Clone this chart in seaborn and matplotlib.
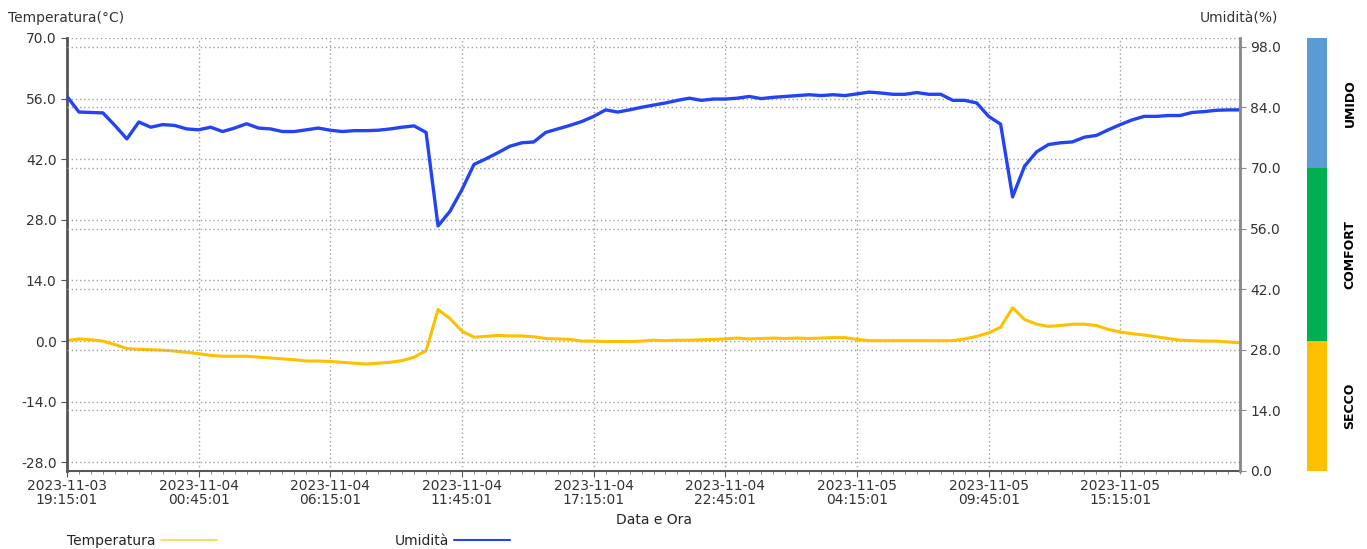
import pandas as pd
import numpy as np
import matplotlib.pyplot as plt
import seaborn as sns
from matplotlib.lines import Line2D

# dati (una misura ogni 30 minuti)
inizio = "2023-11-03 19:15:01"
temperatura = [0.1, 0.5, 0.3, 0.0, -0.8, -1.7, -1.9, -2.0, -2.1, -2.3,
               -2.6, -2.9, -3.3, -3.5, -3.5, -3.5, -3.7, -3.9, -4.1, -4.3,
               -4.6, -4.6, -4.7, -4.9, -5.1, -5.3, -5.1, -4.9, -4.5, -3.7,
               -2.2, 7.3, 5.2, 2.3, 0.9, 1.1, 1.3, 1.2, 1.2, 1.0,
               0.6, 0.5, 0.4, 0.0, 0.0, -0.1, -0.1, -0.1, 0.0, 0.2,
               0.1, 0.2, 0.2, 0.3, 0.4, 0.5, 0.7, 0.5, 0.6, 0.7,
               0.6, 0.7, 0.6, 0.7, 0.8, 0.8, 0.4, 0.1, 0.1, 0.1,
               0.1, 0.1, 0.1, 0.1, 0.1, 0.5, 1.1, 1.9, 3.2, 7.7,
               5.0, 3.9, 3.4, 3.6, 3.9, 3.9, 3.6, 2.7, 2.1, 1.7,
               1.4, 1.0, 0.6, 0.2, 0.1, 0.0, 0.0, -0.2, -0.4]
umidita = [86.5, 82.9, 82.8, 82.7, 79.8, 76.7, 80.6, 79.4, 80.0, 79.8,
           79.0, 78.8, 79.4, 78.4, 79.2, 80.2, 79.2, 79.0, 78.4, 78.4,
           78.8, 79.2, 78.7, 78.4, 78.6, 78.6, 78.7, 79.0, 79.4, 79.7,
           78.2, 56.6, 60.0, 65.0, 70.8, 72.1, 73.5, 75.0, 75.8, 76.0,
           78.2, 79.0, 79.8, 80.7, 81.9, 83.4, 82.9, 83.4, 84.0, 84.5,
           85.0, 85.6, 86.1, 85.6, 85.9, 85.9, 86.1, 86.5, 86.0, 86.3,
           86.5, 86.7, 86.9, 86.7, 86.9, 86.7, 87.1, 87.5, 87.3, 87.0,
           87.0, 87.4, 87.0, 87.0, 85.6, 85.6, 85.0, 81.9, 80.1, 63.3,
           70.4, 73.7, 75.4, 75.8, 76.0, 77.1, 77.5, 78.8, 80.0, 81.1,
           81.9, 81.9, 82.1, 82.1, 82.8, 83.0, 83.3, 83.4, 83.4]

fasce = ["SECCO", "COMFORT", "UMIDO"]
fasce_lim = [0, 30, 70, 100]
fasce_col = ["#FFC000", "#00B050", "#5B9BD5"]

col_temp = "#FFC000"
col_umid = "#2343F5"

tempi = pd.date_range(inizio, periods=len(umidita), freq="30min")
df = pd.DataFrame({"n": np.arange(len(tempi)),
                   "Temperatura": temperatura,
                   "Umidità": umidita})

sns.set_style("white")
plt.rcParams['font.family'] = ['DejaVu Sans']
plt.rcParams['font.size'] = 10

fig = plt.figure(figsize=(13.67, 5.49), dpi=100)
ax = fig.add_axes([67/1367, 1-471/549, (1240-67)/1367, (471-38)/549])
ax2 = ax.twinx()

sns.lineplot(data=df, x="n", y="Temperatura", ax=ax, color=col_temp, lw=2.2)
sns.lineplot(data=df, x="n", y="Umidità", ax=ax2, color=col_umid, lw=2.4)

ax.set_xlim(0, len(df) - 1)
ax.set_ylim(-30, 70)
ax2.set_ylim(0, 100)
ax.set_yticks(np.arange(-28, 71, 14))
ax2.set_yticks(np.arange(0, 99, 14))
ax.set_yticklabels([f"{v:.1f}" for v in np.arange(-28, 71, 14)])
ax2.set_yticklabels([f"{v:.1f}" for v in np.arange(0, 99, 14)])

pos = np.arange(0, len(df), 11)
ax.set_xticks(pos)
ax.set_xticklabels([tempi[i].strftime("%Y-%m-%d\n%H:%M:%S") for i in pos],
                   linespacing=1.05, fontsize=10.5)
ax.set_xticks(np.arange(len(df)), minor=True)

ax.set_ylabel("")
ax2.set_ylabel("")
ax.set_xlabel("Data e Ora", fontsize=10, labelpad=4)

ax.grid(True, which="major", ls=(0, (1, 2)), color="#a0a0a0", lw=1)
ax2.grid(True, axis="y", ls=(0, (1, 2)), color="#a0a0a0", lw=1)
ax2.grid(False, axis="x")

ax.tick_params(axis="both", which="major", length=4, color="#555555",
               labelcolor="#333333", labelsize=10, left=True, bottom=True)
ax.tick_params(axis="x", which="major", pad=1.5)
ax.tick_params(axis="x", which="minor", length=2, color="#777777", bottom=True)
ax2.tick_params(axis="y", length=4, color="#888888", labelcolor="#333333",
                labelsize=10, right=True)

for a in (ax, ax2):
    a.spines["top"].set_visible(False)
ax.spines["left"].set_color("#555555")
ax.spines["left"].set_linewidth(2)
ax.spines["bottom"].set_color("#555555")
ax.spines["bottom"].set_linewidth(1.5)
ax2.spines["right"].set_color("#888888")
ax2.spines["right"].set_linewidth(2)
ax2.spines["left"].set_visible(False)
ax2.spines["bottom"].set_visible(False)

fig.text(8/1367, 1-18/549, "Temperatura(°C)", fontsize=10, va="center",
         color="#333333")
fig.text(1278/1367, 1-18/549, "Umidità(%)", fontsize=10, va="center",
         ha="right", color="#333333")

# fasce di umidità
cax = fig.add_axes([1307/1367, 1-471/549, 20/1367, (471-38)/549])
cax.bar(0, np.diff(fasce_lim), bottom=fasce_lim[:-1], width=1,
        color=fasce_col, linewidth=0)
cax.set_xlim(-0.5, 0.5)
cax.set_ylim(0, 100)
cax.axis("off")
for nome, lo, hi in zip(fasce, fasce_lim[:-1], fasce_lim[1:]):
    cax.text(2.15, (lo + hi) / 2, nome, rotation=90, ha="center",
             va="center", fontsize=9, fontweight="bold", color="black",
             transform=cax.get_yaxis_transform())

handles = [Line2D([], [], color="#FFD24D", lw=1.2),
           Line2D([], [], color=col_umid, lw=1.5)]
fig.legend(handles, ["Temperatura", "Umidità"], loc="center left",
           bbox_to_anchor=(67/1367, 1-541/549), ncol=2, frameon=False,
           markerfirst=False, handlelength=4, handletextpad=0.4,
           columnspacing=12.8, fontsize=10, borderpad=0, borderaxespad=0)

plt.savefig("out.png", dpi=100)
